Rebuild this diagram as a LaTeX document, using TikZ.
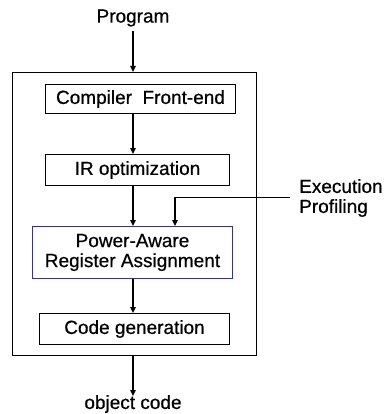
\documentclass[tikz,border=0pt]{standalone}
\usepackage{fontspec}
\setmainfont[FakeBold=0.6]{Liberation Sans}
\usetikzlibrary{arrows.meta}
\definecolor{boxblue}{RGB}{40,40,235}
\begin{document}
\begin{tikzpicture}[x=1pt,y=-1pt,
  every node/.style={font=\fontsize{19}{20}\selectfont, inner sep=0pt},
  stage/.style={draw=black, line width=1pt, anchor=north west},
  flow/.style={draw=black, line width=1.4pt, -{Triangle[length=6pt,width=5.5pt]}},
  wire/.style={draw=black, line width=1pt}]
\useasboundingbox (0,0) rectangle (383,414);
\node (prog) at (133,18) {Program};
\node[stage, minimum width=244pt, minimum height=283pt] (outer) at (12,72) {};
\node[stage, minimum width=190pt, minimum height=29pt] (cfe) at (45,84) {};
\node at (cfe.center) {Compiler\ \ Front-end};
\node[stage, minimum width=184pt, minimum height=31pt] (iro) at (45,154) {};
\node at (iro.center) {IR optimization};
\node[stage, draw=boxblue, minimum width=200pt, minimum height=52pt] (pa) at (32,226) {};
\node[align=center] at (pa.center) {Power-Aware\\Register Assignment};
\node[stage, minimum width=190pt, minimum height=31pt] (cg) at (39,313) {};
\node at (cg.center) {Code generation};
\node[align=left, anchor=west] (prof) at (299,198) {Execution\\Profiling};
\node (obj) at (133,404) {object code};
\coordinate (a0) at (133,31);
\coordinate (pin) at (175,197);
\draw[flow] (a0) -- (a0 |- outer.north);
\draw[flow] (cfe.south -| a0) -- (iro.north -| a0);
\draw[flow] (iro.south -| a0) -- (pa.north -| a0);
\draw[flow] (pa.south -| a0) -- (cg.north -| a0);
\draw[flow] (outer.south -| a0) -- (133,396);
\draw[wire] ([xshift=-9pt]prof.west |- pin) -- (pin);
\draw[flow] (pin) -- (pin |- pa.north);
\end{tikzpicture}
\end{document}
